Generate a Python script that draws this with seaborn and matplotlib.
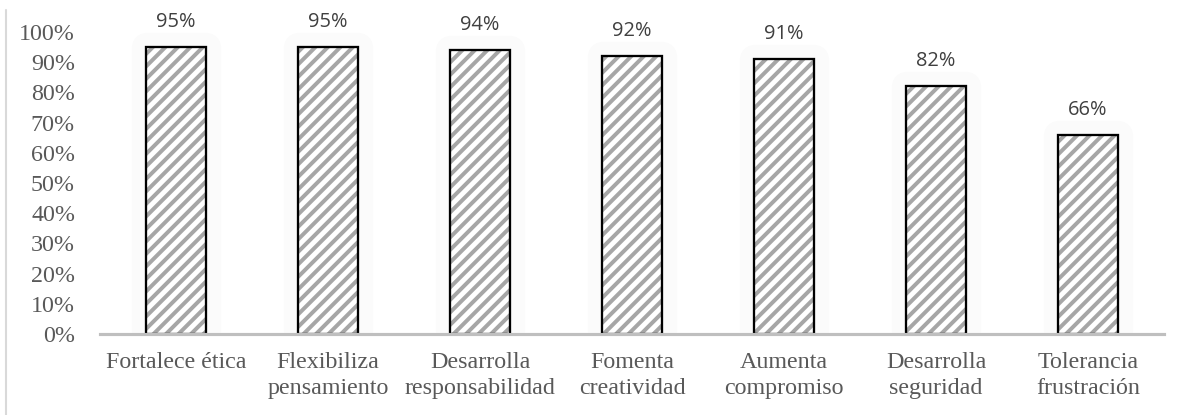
import matplotlib
matplotlib.use("Agg")
import matplotlib.pyplot as plt
import matplotlib.colors as mcolors
import matplotlib.patheffects as pe
from matplotlib.lines import Line2D
from matplotlib.ticker import PercentFormatter, MultipleLocator
import pandas as pd
import seaborn as sns

categories = [
    "Fortalece ética",
    "Flexibiliza\npensamiento",
    "Desarrolla\nresponsabilidad",
    "Fomenta\ncreatividad",
    "Aumenta\ncompromiso",
    "Desarrolla\nseguridad",
    "Tolerancia\nfrustración",
]
values = [95, 95, 94, 92, 91, 82, 66]

DPI = 150
sns.set_theme(style="white")
plt.rcParams["hatch.linewidth"] = 1.9

df = pd.DataFrame({"categoria": categories, "valor": values})

fig = plt.figure(figsize=(1184 / DPI, 415 / DPI), dpi=DPI)
ax = fig.add_axes([100 / 1184, 81 / 415, 1064 / 1184, 302 / 415])

sns.barplot(
    data=df, x="categoria", y="valor", ax=ax,
    color="white", width=0.39, edgecolor="black", linewidth=1.1,
    saturation=1,
)

# grey diagonal hatch with a black outline, plus the soft glow round each bar
for p in ax.patches:
    p.set_hatch("////")
    p._hatch_color = mcolors.to_rgba("#a6a6a6")
    p.set_path_effects([
        pe.Stroke(linewidth=14, foreground="#fbfbfb", joinstyle="round"),
        pe.Normal(),
    ])

for i, v in enumerate(values):
    ax.annotate(
        f"{v}%", xy=(i, v), xytext=(0, 12), textcoords="offset points",
        ha="center", va="center", fontsize=9.6, color="#404040",
        family="Open Sans", annotation_clip=False,
    )

ax.set_ylim(0, 100)
ax.set_xlim(-0.5, len(categories) - 0.5)
ax.yaxis.set_major_locator(MultipleLocator(10))
ax.yaxis.set_major_formatter(PercentFormatter(100, decimals=0))
ax.set_xlabel("")
ax.set_ylabel("")

for s in ["top", "right", "left"]:
    ax.spines[s].set_visible(False)
ax.spines["bottom"].set_color("#bfbfbf")
ax.spines["bottom"].set_linewidth(1.5)

ax.tick_params(axis="both", length=0, labelcolor="#595959", labelsize=11.5)
ax.tick_params(axis="y", pad=12)
ax.tick_params(axis="x", pad=8.5)
for lab in ax.get_xticklabels() + ax.get_yticklabels():
    lab.set_family("Liberation Serif")
for lab in ax.get_xticklabels():
    lab.set_linespacing(1.32)

fig.add_artist(Line2D([6 / 1184, 6 / 1184], [0, 1 - 10 / 415],
                      transform=fig.transFigure, color="#d9d9d9", lw=1.0))

fig.savefig("out.png", dpi=DPI)
